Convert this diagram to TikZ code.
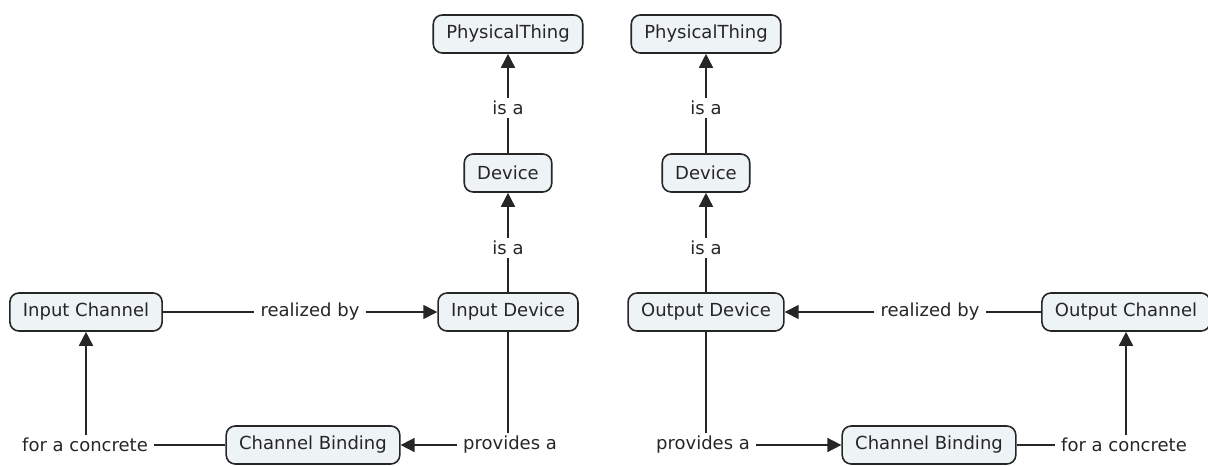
\documentclass[tikz,border=0pt]{standalone}
\usepackage{fontspec}
\setmainfont{DejaVu Sans}
\usetikzlibrary{arrows.meta}
\definecolor{boxfill}{HTML}{EEF3F6}
\definecolor{ink}{HTML}{262626}
\begin{document}
\begin{tikzpicture}[x=1pt,y=-1pt,
  concept/.style={draw=ink, line width=1.6pt, rounded corners=9pt, fill=boxfill,
    minimum height=38pt, inner xsep=13pt, font=\fontsize{18}{20}\selectfont, text=ink},
  lab/.style={font=\fontsize{18}{20}\selectfont, text=ink, inner xsep=6pt, inner ysep=3pt},
  link/.style={line width=1.6pt, draw=ink},
  arr/.style={link, -{Triangle[length=14pt,width=14pt]}}]
\useasboundingbox (0,0) rectangle (1208,466);
% nodes
\node[concept] (ptL) at (508,34) {PhysicalThing};
\node[concept] (ptR) at (706,34) {PhysicalThing};
\node[concept] (devL) at (508,173) {Device};
\node[concept] (devR) at (706,173) {Device};
\node[concept] (ic) at (86,312) {Input Channel};
\node[concept] (id) at (508,312) {Input Device};
\node[concept] (od) at (706,312) {Output Device};
\node[concept] (oc) at (1126,312) {Output Channel};
\node[concept] (cbL) at (313,445) {Channel Binding};
\node[concept] (cbR) at (929,445) {Channel Binding};
% labels
\node[lab] (isa1) at (508,108) {is a};
\node[lab] (isa2) at (508,248) {is a};
\node[lab] (isa3) at (706,108) {is a};
\node[lab] (isa4) at (706,248) {is a};
\node[lab] (rbL) at (310,312) {realized by};
\node[lab] (rbR) at (930,312) {realized by};
\node[lab] (paL) at (510,445) {provides a};
\node[lab] (paR) at (703,445) {provides a};
\node[lab] (fcL) at (85,445) {for a concrete};
\node[lab] (fcR) at (1124,445) {for a concrete};
% left chain
\draw[link] (devL) -- (isa1);
\draw[arr] (isa1) -- (ptL);
\draw[link] (id) -- (isa2);
\draw[arr] (isa2) -- (devL);
\draw[link] (ic) -- (rbL);
\draw[arr] (rbL) -- (id);
\draw[link] (id.south) -- (id.south |- paL.north);
\draw[arr] (paL) -- (cbL);
\draw[link] (cbL) -- (fcL);
\draw[arr] (fcL.north -| ic.south) -- (ic.south);
% right chain
\draw[link] (devR) -- (isa3);
\draw[arr] (isa3) -- (ptR);
\draw[link] (od) -- (isa4);
\draw[arr] (isa4) -- (devR);
\draw[link] (oc) -- (rbR);
\draw[arr] (rbR) -- (od);
\draw[link] (od.south) -- (od.south |- paR.north);
\draw[arr] (paR) -- (cbR);
\draw[link] (cbR) -- (fcR);
\draw[arr] (fcR.north -| oc.south) -- (oc.south);
\end{tikzpicture}
\end{document}
